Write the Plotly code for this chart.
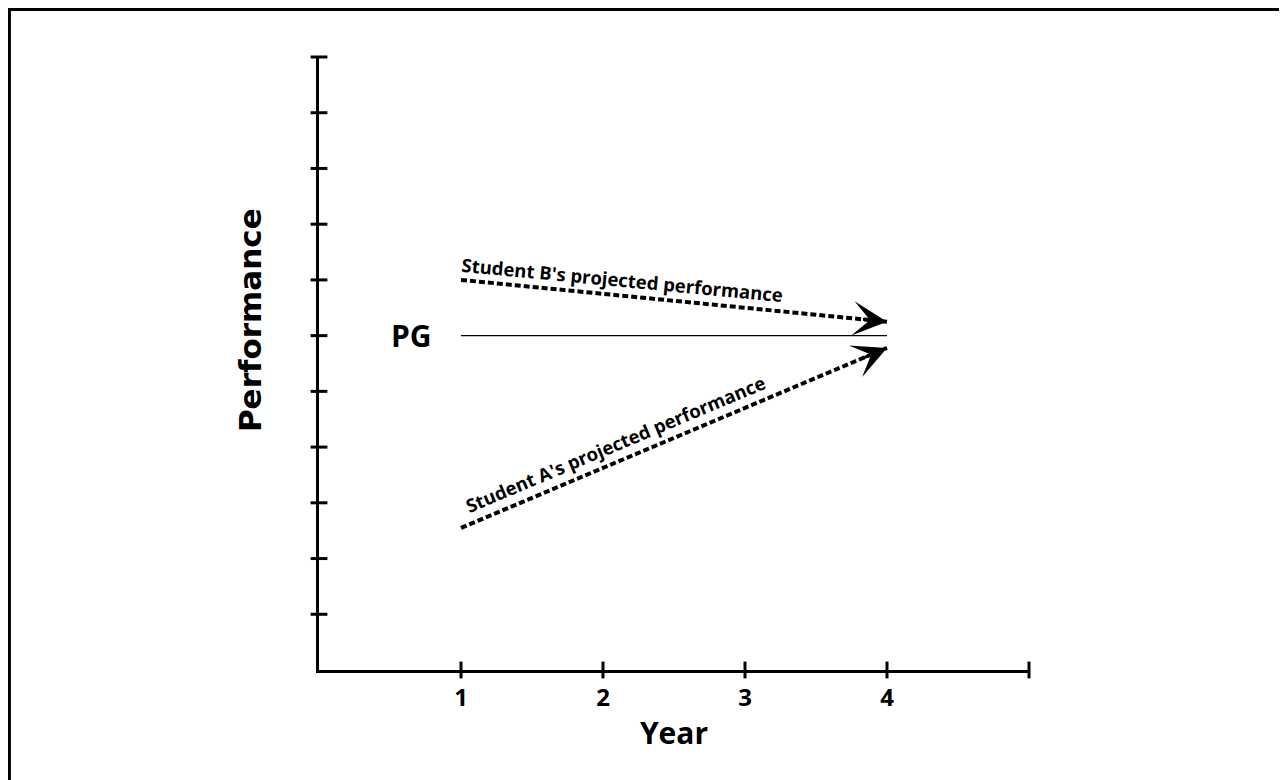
import plotly.graph_objects as go

# ---- data ----
years = [1, 4]
pg_level = [6, 6]
student_b = [7.0, 6.25]
student_a = [2.55, 5.78]
x_tick_labels = ["1", "2", "3", "4"]
x_tick_vals = [1, 2, 3, 4]
x_tick_marks = [1, 2, 3, 4, 5]
y_tick_marks = [1, 2, 3, 4, 5, 6, 7, 8, 9, 10, 11]

FONT = "Open Sans"
fig = go.Figure()

# PG reference line
fig.add_trace(go.Scatter(x=years, y=pg_level, mode="lines",
                         line=dict(color="black", width=1.2), hoverinfo="skip"))
# Student lines (dashed)
for ys in (student_b, student_a):
    fig.add_trace(go.Scatter(x=years, y=ys, mode="lines",
                             line=dict(color="black", width=4, dash="6px,3px"),
                             hoverinfo="skip"))

# crossing tick marks
fig.add_trace(go.Scatter(x=[0] * len(y_tick_marks), y=y_tick_marks, mode="markers",
                         marker=dict(symbol="line-ew", size=12, line=dict(color="black", width=3)),
                         cliponaxis=False, hoverinfo="skip"))
fig.add_trace(go.Scatter(x=x_tick_marks, y=[0] * len(x_tick_marks), mode="markers",
                         marker=dict(symbol="line-ns", size=12, line=dict(color="black", width=3)),
                         cliponaxis=False, hoverinfo="skip"))

# arrowheads
for ys in (student_b, student_a):
    frac = 0.06
    fig.add_annotation(x=years[1], y=ys[1],
                       ax=years[1] - frac * (years[1] - years[0]),
                       ay=ys[1] - frac * (ys[1] - ys[0]),
                       xref="x", yref="y", axref="x", ayref="y",
                       showarrow=True, arrowhead=3, arrowsize=1.9, arrowwidth=3,
                       arrowcolor="black", text="")

# text labels
fig.add_annotation(x=years[0], y=pg_level[0], xref="x", yref="y", text="PG",
                   showarrow=False, xanchor="right", xshift=-27,
                   font=dict(family=FONT, size=30, color="black", weight="bold"))
fig.add_annotation(x=2.14, y=7.0, xref="x", yref="y",
                   text="Student B's projected performance", showarrow=False,
                   textangle=5.4, font=dict(family=FONT, size=18.5, color="black", weight="bold"))
fig.add_annotation(x=2.09, y=4.06, xref="x", yref="y",
                   text="Student A's projected performance", showarrow=False,
                   textangle=-22.8, font=dict(family=FONT, size=18.5, color="black", weight="bold"))
fig.add_annotation(x=-0.097, y=0.571, xref="paper", yref="paper", text="Performance",
                   showarrow=False, textangle=-90, xanchor="center", yanchor="middle",
                   font=dict(family="DejaVu Sans", size=31, color="black", weight="bold"))

# outer frame
fig.add_shape(type="rect", xref="paper", yref="paper", x0=-0.436, y0=-1, x1=2, y1=1.0775,
              line=dict(color="black", width=3), fillcolor="rgba(0,0,0,0)")

fig.update_layout(
    width=1287, height=780, showlegend=False,
    paper_bgcolor="white", plot_bgcolor="white",
    margin=dict(l=311, r=266, t=49, b=118),
)
fig.update_xaxes(range=[0, 5], showgrid=False, zeroline=False, showline=True,
                 linecolor="black", linewidth=3, tickvals=x_tick_vals, ticktext=x_tick_labels,
                 ticks="outside", ticklen=4, tickcolor="rgba(0,0,0,0)",
                 tickfont=dict(family=FONT, size=24, color="black", weight="bold"),
                 title=dict(text="Year", standoff=12,
                            font=dict(family=FONT, size=30, color="black", weight="bold")))
fig.update_yaxes(range=[0, 11], showgrid=False, zeroline=False, showline=True,
                 linecolor="black", linewidth=3, showticklabels=False, ticks="")

fig.write_html("out.html")
